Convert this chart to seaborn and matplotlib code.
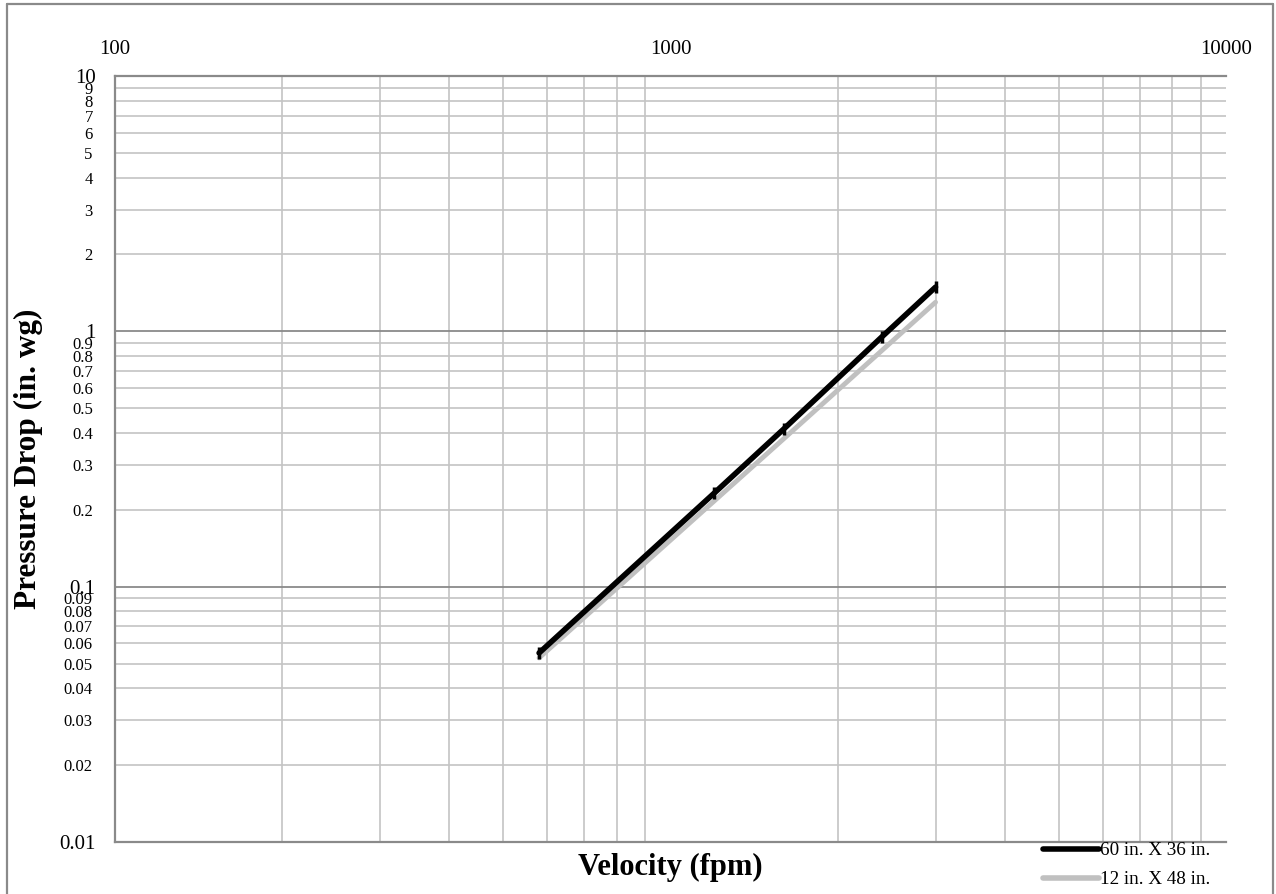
import numpy as np
import pandas as pd
import seaborn as sns
import matplotlib
matplotlib.use('Agg')
import matplotlib.pyplot as plt
from matplotlib.ticker import LogLocator, FuncFormatter, NullFormatter, FixedLocator
from matplotlib.lines import Line2D

# ---- data ----
velocity = [580, 1200, 1600, 2400, 3000]
drop_60x36 = [0.055, 0.233, 0.415, 0.95, 1.49]
drop_12x48 = [0.0526, 0.217, 0.38, 0.84, 1.30]
series_names = ['60 in. X 36 in.', '12 in. X 48 in.']
x_major_ticks = [100, 1000, 10000]
x_tick_labels = ['100', '1000', '10000']
y_major_ticks = [0.01, 0.1, 1, 10]

sns.set_style('white')
plt.rcParams['font.family'] = ['Liberation Serif', 'DejaVu Serif']
plt.rcParams['text.color'] = 'black'
plt.rcParams['axes.labelcolor'] = 'black'
plt.rcParams['xtick.color'] = 'black'
plt.rcParams['ytick.color'] = 'black'

W, H = 1276, 894
fig = plt.figure(figsize=(W / 100, H / 100), dpi=100)
L, R, T, B = 115, 1226, 76, 842
ax = fig.add_axes([L / W, 1 - B / H, (R - L) / W, (B - T) / H])

df = pd.DataFrame({
    'Velocity': velocity + velocity,
    'Drop': drop_60x36 + drop_12x48,
    'Series': [series_names[0]] * len(velocity) + [series_names[1]] * len(velocity),
})

sns.lineplot(data=df[df.Series == series_names[1]], x='Velocity', y='Drop',
             color='#c0c0c0', lw=3.5, ax=ax, legend=False, sort=False,
             estimator=None, zorder=3)
sns.lineplot(data=df[df.Series == series_names[0]], x='Velocity', y='Drop',
             color='black', lw=4.0, ax=ax, legend=False, sort=False,
             estimator=None, marker='|', markersize=9, markeredgewidth=2.5,
             markeredgecolor='black', zorder=4)

ax.set_xscale('log')
ax.set_yscale('log')
ax.set_xlim(100, 10000)
ax.set_ylim(0.01, 10)

fmt = FuncFormatter(lambda v, p: f'{v:g}')

# x axis (labels on top)
ax.xaxis.tick_top()
ax.xaxis.set_major_locator(FixedLocator(x_major_ticks))
ax.set_xticklabels(x_tick_labels)
ax.xaxis.set_minor_locator(LogLocator(base=10, subs=np.arange(2, 10), numticks=20))
ax.xaxis.set_minor_formatter(NullFormatter())
ax.tick_params(axis='x', which='both', length=0, pad=12, labelsize=15)

# y axis
ax.yaxis.set_major_locator(FixedLocator(y_major_ticks))
ax.yaxis.set_major_formatter(fmt)
ax.yaxis.set_minor_locator(LogLocator(base=10, subs=np.arange(2, 10), numticks=20))
ax.yaxis.set_minor_formatter(fmt)
ax.tick_params(axis='y', which='major', length=0, pad=14, labelsize=15)
ax.tick_params(axis='y', which='minor', length=0, pad=16, labelsize=12)

# grid
ax.grid(False)
ax.yaxis.grid(True, which='major', color='#8a8a8a', lw=1.3)
ax.yaxis.grid(True, which='minor', color='#c4c4c4', lw=1.2)
ax.xaxis.grid(True, which='minor', color='#c4c4c4', lw=1.2)
ax.set_axisbelow(True)

for s in ['left', 'top', 'bottom']:
    ax.spines[s].set_color('#8a8a8a')
    ax.spines[s].set_linewidth(1.6)
    ax.spines[s].set_visible(True)
ax.spines['right'].set_visible(False)

# axis labels
ax.set_xlabel('Velocity (fpm)', fontsize=22, fontweight='bold')
ax.xaxis.set_label_position('bottom')
ax.xaxis.set_label_coords(0.5, (B - 867) / (B - T))
ax.xaxis.label.set_va('center')

ax.set_ylabel('Pressure Drop (in. wg)', fontsize=22.5, fontweight='bold')
ax.yaxis.set_label_coords((28 - L) / (R - L), 0.5)
ax.yaxis.label.set_va('center')

# legend
handles = [Line2D([], [], color='black', lw=4),
           Line2D([], [], color='#c0c0c0', lw=4)]
fig.legend(handles, series_names, loc='upper left',
           bbox_to_anchor=(1043 / W, 1 - 842 / H), bbox_transform=fig.transFigure,
           frameon=False, fontsize=13.8, handlelength=2.9, handletextpad=0.08,
           labelspacing=0.6, borderpad=0, borderaxespad=0)

# outer border
bc = '#8a8a8a'
fig.add_artist(Line2D([7 / W, 7 / W], [0, 1 - 4 / H], transform=fig.transFigure, color=bc, lw=1.6))
fig.add_artist(Line2D([7 / W, 1273 / W], [1 - 4 / H, 1 - 4 / H], transform=fig.transFigure, color=bc, lw=1.6))
fig.add_artist(Line2D([1273 / W, 1273 / W], [0, 1 - 4 / H], transform=fig.transFigure, color=bc, lw=1.6))

fig.savefig('out.png', dpi=100)
